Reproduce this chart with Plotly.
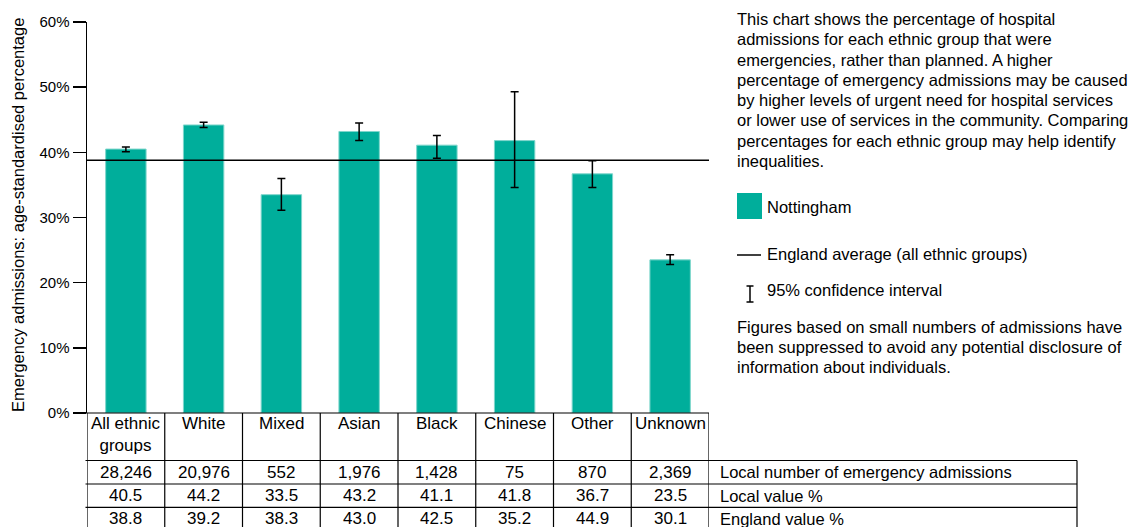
import plotly.graph_objects as go

categories = ["All ethnic groups", "White", "Mixed", "Asian", "Black", "Chinese", "Other", "Unknown"]
header_labels = ["All ethnic<br>groups", "White", "Mixed", "Asian", "Black", "Chinese", "Other", "Unknown"]
local_value = [40.5, 44.2, 33.5, 43.2, 41.1, 41.8, 36.7, 23.5]
ci_lower = [40.1, 43.8, 31.1, 41.8, 39.1, 34.6, 34.6, 22.8]
ci_upper = [40.8, 44.6, 36.0, 44.5, 42.6, 49.3, 38.7, 24.3]
local_number = ["28,246", "20,976", "552", "1,976", "1,428", "75", "870", "2,369"]
england_value = [38.8, 39.2, 38.3, 43.0, 42.5, 35.2, 44.9, 30.1]
england_average = england_value[0]
y_ticks = [0, 10, 20, 30, 40, 50, 60]
y_tick_text = ["0%", "10%", "20%", "30%", "40%", "50%", "60%"]
row_labels = ["Local number of emergency admissions", "Local value %", "England value %"]

explanation = [
    "This chart shows the percentage of hospital",
    "admissions for each ethnic group that were",
    "emergencies, rather than planned. A higher",
    "percentage of emergency admissions may be caused",
    "by higher levels of urgent need for hospital services",
    "or lower use of services in the community. Comparing",
    "percentages for each ethnic group may help identify",
    "inequalities.",
]
footnote = [
    "Figures based on small numbers of admissions have",
    "been suppressed to avoid any potential disclosure of",
    "information about individuals.",
]

W, H = 1139, 527
L, R, T, B = 87, 709, 22, 413
BAR = "#00ae9b"
FONT = "Liberation Sans, Arial, sans-serif"


def px(x):
    return (x - L) / (R - L)


def py(y):
    return (B - y) / (B - T)


fig = go.Figure()
fig.add_trace(go.Bar(
    x=categories, y=local_value,
    marker=dict(color=BAR, line=dict(color="#7fd6cc", width=1)),
    error_y=dict(type="data", symmetric=False,
                 array=[u - v for u, v in zip(ci_upper, local_value)],
                 arrayminus=[v - l for l, v in zip(ci_lower, local_value)],
                 color="black", thickness=1.5, width=4),
    showlegend=False, hoverinfo="skip",
))

shapes = []
annotations = []

# England average line
shapes.append(dict(type="line", xref="paper", yref="y", x0=0, x1=1,
                   y0=england_average, y1=england_average,
                   line=dict(color="black", width=1.5)))

# Table grid
lw = dict(color="black", width=1.2)
row_y = [413, 460.5, 484, 507.3, 531]
for i, yy in enumerate(row_y):
    x1 = px(R) if i == 0 else px(1077)
    shapes.append(dict(type="line", xref="paper", yref="paper", x0=px(85.5), x1=x1,
                       y0=py(yy), y1=py(yy), line=lw))
for i in range(len(categories) + 1):
    shapes.append(dict(type="line", xref="x", yref="paper", x0=i - 0.5, x1=i - 0.5,
                       y0=py(413), y1=py(531), line=lw))
shapes.append(dict(type="line", xref="paper", yref="paper", x0=px(1077), x1=px(1077),
                   y0=py(460.5), y1=py(531), line=lw))

tfont = dict(family=FONT, size=17, color="black")
lfont = dict(family=FONT, size=16.5, color="black")
for i, c in enumerate(categories):
    annotations.append(dict(x=c, xref="x", y=py(412), yref="paper", text=header_labels[i],
                            showarrow=False, xanchor="center", yanchor="top",
                            font=tfont, align="center"))
    annotations.append(dict(x=c, xref="x", y=py(472), yref="paper", text=local_number[i],
                            showarrow=False, xanchor="center", yanchor="middle", font=tfont))
    annotations.append(dict(x=c, xref="x", y=py(495.5), yref="paper", text=f"{local_value[i]:.1f}",
                            showarrow=False, xanchor="center", yanchor="middle", font=tfont))
    annotations.append(dict(x=c, xref="x", y=py(518.5), yref="paper", text=f"{england_value[i]:.1f}",
                            showarrow=False, xanchor="center", yanchor="middle", font=tfont))
for j, lab in enumerate(row_labels):
    annotations.append(dict(x=px(718), xref="paper", y=py([472, 495.5, 518.5][j]), yref="paper",
                            text=lab, showarrow=False, xanchor="left", yanchor="middle",
                            font=lfont))

# Right-hand explanatory text
for k, line in enumerate(explanation):
    annotations.append(dict(x=px(735), xref="paper", y=py(19 + 20.3 * k), yref="paper",
                            text=line, showarrow=False, xanchor="left", yanchor="middle",
                            font=lfont))
for k, line in enumerate(footnote):
    annotations.append(dict(x=px(735), xref="paper", y=py(327 + 20 * k), yref="paper",
                            text=line, showarrow=False, xanchor="left", yanchor="middle",
                            font=lfont))

# Legend
shapes.append(dict(type="rect", xref="paper", yref="paper", x0=px(737), x1=px(762),
                   y0=py(193), y1=py(219), fillcolor=BAR, line=dict(width=0)))
annotations.append(dict(x=px(765), xref="paper", y=py(207), yref="paper", text="Nottingham",
                        showarrow=False, xanchor="left", yanchor="middle", font=lfont))
shapes.append(dict(type="line", xref="paper", yref="paper", x0=px(737), x1=px(761),
                   y0=py(255), y1=py(255), line=dict(color="black", width=1.5)))
annotations.append(dict(x=px(765), xref="paper", y=py(254), yref="paper",
                        text="England average (all ethnic groups)",
                        showarrow=False, xanchor="left", yanchor="middle", font=lfont))
for seg in [(750, 286, 750, 302), (746.5, 286, 753.5, 286), (746.5, 302, 753.5, 302)]:
    shapes.append(dict(type="line", xref="paper", yref="paper", x0=px(seg[0]), x1=px(seg[2]),
                       y0=py(seg[1]), y1=py(seg[3]), line=dict(color="black", width=1.5)))
annotations.append(dict(x=px(765), xref="paper", y=py(290), yref="paper",
                        text="95% confidence interval",
                        showarrow=False, xanchor="left", yanchor="middle", font=lfont))

# Y-axis title
annotations.append(dict(x=px(18), xref="paper", y=py(215), yref="paper",
                        text="Emergency admissions: age-standardised percentage",
                        textangle=-90, showarrow=False, xanchor="center", yanchor="middle",
                        font=lfont))

fig.update_layout(
    width=W, height=H,
    margin=dict(l=L, r=W - R, t=T, b=H - B, pad=0),
    paper_bgcolor="white", plot_bgcolor="white",
    bargap=0.48,
    xaxis=dict(range=[-0.5, len(categories) - 0.5], showticklabels=False, ticks="",
               showgrid=False, zeroline=False, showline=False, fixedrange=True),
    yaxis=dict(range=[0, 60], tickvals=y_ticks, ticktext=y_tick_text, ticks="outside",
               ticklen=13, tickwidth=1.5, tickcolor="black", showline=True,
               linecolor="black", linewidth=1.5, showgrid=False, zeroline=False,
               tickfont=dict(family=FONT, size=15, color="black"), fixedrange=True),
    shapes=shapes, annotations=annotations,
    font=dict(family=FONT, size=16, color="black"),
)

fig.write_html(
    "out.html",
    config={"displayModeBar": False, "staticPlot": True},
    post_script="document.documentElement.style.margin='0';document.body.style.margin='0';"
                "document.body.style.overflow='hidden';",
)
